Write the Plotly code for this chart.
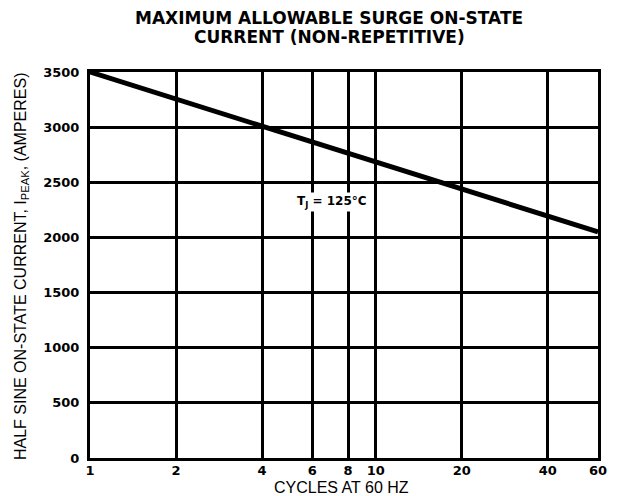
import plotly.graph_objects as go
import math

cycles = [1, 60]
current = [3500, 2050]
x_ticks = [1, 2, 4, 6, 8, 10, 20, 40, 60]
x_tick_text = ["1", "2", "4", "6", "8", "10", "20", "40", "60"]
y_ticks = [0, 500, 1000, 1500, 2000, 2500, 3000, 3500]
y_tick_text = ["0", "500", "1000", "1500", "2000", "2500", "3000", "3500"]

fig = go.Figure()
fig.add_trace(go.Scatter(x=cycles, y=current, mode="lines",
                         line=dict(color="black", width=5), showlegend=False,
                         hoverinfo="skip"))

tickfont = dict(family="DejaVu Sans", size=13, color="black")
fig.update_xaxes(type="log", range=[0, math.log10(60)], tickvals=x_ticks,
                 ticktext=["<b>%s</b>" % t for t in x_tick_text], tickfont=tickfont,
                 showgrid=True, gridcolor="black", gridwidth=2.5,
                 showline=True, linecolor="black", linewidth=3, mirror=True,
                 ticks="", ticklabelstandoff=-2, automargin=False)
fig.update_yaxes(range=[0, 3500], tickvals=y_ticks,
                 ticktext=["<b>%s</b>" % t for t in y_tick_text], tickfont=tickfont,
                 showgrid=True, gridcolor="black", gridwidth=2.5, zeroline=False,
                 showline=True, linecolor="black", linewidth=3, mirror=True,
                 ticks="", ticklabelstandoff=5, automargin=False)

# title (two lines, set separately for exact spacing)
fig.add_annotation(xref="paper", yref="paper", x=0.4705, y=1.1399,
                   text="<b>MAXIMUM ALLOWABLE SURGE ON-STATE</b>", showarrow=False,
                   xanchor="center", yanchor="middle",
                   font=dict(family="DejaVu Sans", size=17, color="black"))
fig.add_annotation(xref="paper", yref="paper", x=0.4705, y=1.0907,
                   text="<b>CURRENT (NON-REPETITIVE)</b>", showarrow=False,
                   xanchor="center", yanchor="middle",
                   font=dict(family="DejaVu Sans", size=17, color="black"))

fig.add_annotation(xref="paper", yref="paper", x=-0.136, y=0.497,
                   text="HALF SINE ON-STATE CURRENT, I<sub>PEAK</sub>, (AMPERES)",
                   textangle=-90, showarrow=False, xanchor="center", yanchor="middle",
                   font=dict(family="Liberation Sans", size=16, color="black"))
fig.add_annotation(xref="paper", yref="paper", x=0.496, y=-0.076,
                   text="CYCLES AT 60 HZ", showarrow=False, xanchor="center", yanchor="middle",
                   font=dict(family="Liberation Sans", size=16, color="black"))

fig.add_annotation(xref="paper", yref="paper", x=0.476, y=0.663,
                   text="<b>T<sub>J</sub> = 125°C</b>", showarrow=False,
                   xanchor="center", yanchor="middle",
                   font=dict(family="DejaVu Sans", size=12, color="black"),
                   bgcolor="white")

fig.update_layout(
    width=616, height=488,
    margin=dict(l=82, r=26, t=64, b=38),
    paper_bgcolor="white", plot_bgcolor="white",
)

fig.write_html("out.html")
